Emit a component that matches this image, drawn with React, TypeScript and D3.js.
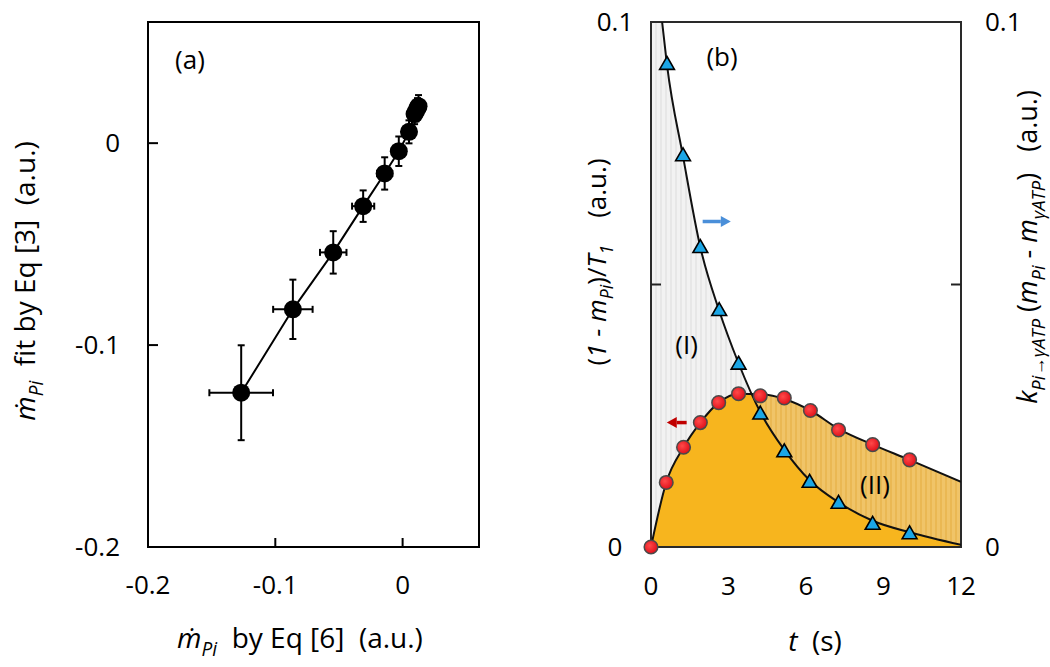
import React from 'react';
import * as d3 from 'd3';

const W = 1050;
const H = 667;
const FONT = "'Open Sans', 'Noto Sans', sans-serif";

// ---------- Panel (a) data ----------
const aTicks = [-0.2, -0.1, 0];
const aX = [-0.1268, -0.0862, -0.0545, -0.031, -0.0141, -0.003, 0.005, 0.0094, 0.0105, 0.0117, 0.0125];
const aY = [-0.1236, -0.0823, -0.0541, -0.0312, -0.015, -0.004, 0.0056, 0.0144, 0.0158, 0.0173, 0.0183];
const aXErr = [0.025, 0.0155, 0.0104, 0.0087, 0.006, 0.005, 0.004, 0.004, 0.004, 0.004, 0.004];
const aYErr = [0.0235, 0.0147, 0.0105, 0.0078, 0.008, 0.0073, 0.0057, 0.005, 0.005, 0.005, 0.0055];

// ---------- Panel (b) data ----------
const bXTicks = [0, 3, 6, 9, 12];
const bYLabels = [0, 0.1];
const bYMarks = [0.05];
// blue triangles (right axis)
const triT = [0.62, 1.24, 1.91, 2.64, 3.39, 4.23, 5.16, 6.14, 7.26, 8.58, 10.01];
const triY = [0.0918, 0.0744, 0.0569, 0.0449, 0.0347, 0.0252, 0.018, 0.0122, 0.0082, 0.0042, 0.0024];
// red circles (left axis)
const cirT = [0, 0.59, 1.26, 1.91, 2.62, 3.39, 4.23, 5.16, 6.17, 7.26, 8.58, 10.01];
const cirY = [0, 0.0123, 0.019, 0.0237, 0.0275, 0.0292, 0.0288, 0.0284, 0.026, 0.0223, 0.0195, 0.0166];
// fitted curves
const fit1T = [0.43, 0.62, 1.24, 1.91, 2.64, 3.39, 4.23, 5.16, 6.14, 7.26, 8.58, 10.01, 12];
const fit1Y = [0.1, 0.0918, 0.0744, 0.0571, 0.045, 0.035, 0.0257, 0.0185, 0.0127, 0.0085, 0.005, 0.0028, 0.0004];
const fit2T = [0, 0.59, 1.26, 1.91, 2.62, 3.39, 4.23, 5.16, 6.17, 7.26, 8.58, 10.01, 12];
const fit2Y = [0, 0.0123, 0.019, 0.0237, 0.0275, 0.0292, 0.0291, 0.0282, 0.026, 0.0225, 0.0195, 0.0166, 0.0124];
// annotations
const blueArrow = { t0: 2.0, t1: 3.09, y: 0.062 };
const redArrow = { t0: 1.38, t1: 0.61, y: 0.0237 };
const labelI = { t: 1.38, y: 0.0385 };
const labelII = { t: 8.67, y: 0.0118 };

type Seg = { t: string; i?: boolean; s?: boolean };

function Rich({ segs, size, subScale = 0.68, ...rest }: { segs: Seg[]; size: number; subScale?: number; [k: string]: any }) {
  const sub = size * subScale;
  const shift = size * 0.28;
  let prev = false;
  return (
    <text fontSize={size} fontFamily={FONT} fill="#000" style={{ whiteSpace: 'pre' }} {...rest}>
      {segs.map((g, k) => {
        let dy = 0;
        if (g.s && !prev) dy = shift;
        else if (!g.s && prev) dy = -shift;
        prev = !!g.s;
        return (
          <tspan key={k} dy={dy || undefined} fontSize={g.s ? sub : undefined} fontStyle={g.i ? 'italic' : undefined}>
            {g.t}
          </tspan>
        );
      })}
    </text>
  );
}

function Arrow({ x0, x1, y, color }: { x0: number; x1: number; y: number; color: string }) {
  const dir = Math.sign(x1 - x0);
  const hl = 10;
  const hw = 5.5;
  return (
    <g>
      <line x1={x0} x2={x1 - dir * hl} y1={y} y2={y} stroke={color} strokeWidth={3.5} />
      <polygon points={`${x1},${y} ${x1 - dir * hl},${y - hw} ${x1 - dir * hl},${y + hw}`} fill={color} />
    </g>
  );
}

export default function App() {
  // Panel a scales
  const ax = d3.scaleLinear().domain([-0.2, 0.06]).range([148, 479]);
  const ay = d3.scaleLinear().domain([-0.2, 0.06]).range([547, 22]);
  const aPts = aX.map((x, i) => ({ x, y: aY[i], ex: aXErr[i], ey: aYErr[i] }));
  const aLine = d3.line<{ x: number; y: number }>().x((d) => ax(d.x)).y((d) => ay(d.y))(aPts) || '';

  // Panel b scales
  const bx = d3.scaleLinear().domain([0, 12]).range([651, 961]);
  const by = d3.scaleLinear().domain([0, 0.1]).range([547, 22]);
  const f1 = fit1T.map((t, i) => [t, fit1Y[i]] as [number, number]);
  const f2 = fit2T.map((t, i) => [t, fit2Y[i]] as [number, number]);
  const line = d3.line<[number, number]>().x((d) => bx(d[0])).y((d) => by(d[1])).curve(d3.curveMonotoneX);
  const l1 = line(f1) || '';
  const l2 = line(f2) || '';
  const under1 = `M${bx(0)},${by(0)}L${bx(0)},${by(0.1)}L${l1.slice(1)}L${bx(12)},${by(0)}Z`;
  const under2 = (d3
    .area<[number, number]>()
    .x((d) => bx(d[0]))
    .y0(by(0))
    .y1((d) => by(d[1]))
    .curve(d3.curveMonotoneX)(f2)) || '';
  const triPath = d3.symbol().type(d3.symbolTriangle).size(95)() || '';

  const tickFS = 26;
  const titleFS = 28;

  return (
    <svg width={W} height={H} style={{ position: 'absolute', left: 0, top: 0, background: '#fff' }} fontFamily={FONT}>
      <defs>
        <pattern id="grayStripe" width="5" height="10" patternUnits="userSpaceOnUse">
          <rect width="5" height="10" fill="#f2f2f2" />
          <rect width="2" height="10" fill="#e7e7e7" />
        </pattern>
        <pattern id="orangeStripe" width="5" height="10" patternUnits="userSpaceOnUse">
          <rect width="5" height="10" fill="#f0c468" />
          <rect width="2" height="10" fill="#eab853" />
        </pattern>
        <clipPath id="plotB">
          <rect x={bx(0)} y={by(0.1)} width={bx(12) - bx(0)} height={by(0) - by(0.1)} />
        </clipPath>
        <clipPath id="under1">
          <path d={under1} />
        </clipPath>
        <radialGradient id="redBall" cx="0.4" cy="0.4" r="0.6">
          <stop offset="0" stopColor="#ff4a4a" />
          <stop offset="1" stopColor="#e0101a" />
        </radialGradient>
      </defs>

      {/* ================= Panel (a) ================= */}
      <rect x={ax(-0.2)} y={ay(0.06)} width={ax(0.06) - ax(-0.2)} height={ay(-0.2) - ay(0.06)} fill="none" stroke="#000" strokeWidth={2} />
      {aTicks.map((v) => (
        <g key={'ax' + v}>
          <line x1={ax(v)} x2={ax(v)} y1={ay(-0.2)} y2={ay(-0.2) - 9} stroke="#000" strokeWidth={2} />
          <text x={ax(v)} y={594} textAnchor="middle" fontSize={tickFS}>{v === 0 ? '0' : v.toFixed(1)}</text>
        </g>
      ))}
      {aTicks.map((v) => (
        <g key={'ay' + v}>
          <line x1={ax(-0.2)} x2={ax(-0.2) + 10} y1={ay(v)} y2={ay(v)} stroke="#000" strokeWidth={2} />
          <text x={120} y={ay(v) + 9} textAnchor="end" fontSize={tickFS}>{v === 0 ? '0' : v.toFixed(1)}</text>
        </g>
      ))}
      <path d={aLine} fill="none" stroke="#000" strokeWidth={2} />
      {aPts.map((p, i) => (
        <g key={'ap' + i} stroke="#000" strokeWidth={2}>
          <line x1={ax(p.x - p.ex)} x2={ax(p.x + p.ex)} y1={ay(p.y)} y2={ay(p.y)} />
          <line x1={ax(p.x - p.ex)} x2={ax(p.x - p.ex)} y1={ay(p.y) - 3.5} y2={ay(p.y) + 3.5} />
          <line x1={ax(p.x + p.ex)} x2={ax(p.x + p.ex)} y1={ay(p.y) - 3.5} y2={ay(p.y) + 3.5} />
          <line x1={ax(p.x)} x2={ax(p.x)} y1={ay(p.y - p.ey)} y2={ay(p.y + p.ey)} />
          <line x1={ax(p.x) - 3.5} x2={ax(p.x) + 3.5} y1={ay(p.y - p.ey)} y2={ay(p.y - p.ey)} />
          <line x1={ax(p.x) - 3.5} x2={ax(p.x) + 3.5} y1={ay(p.y + p.ey)} y2={ay(p.y + p.ey)} />
          <circle cx={ax(p.x)} cy={ay(p.y)} r={9} fill="#000" stroke="none" />
        </g>
      ))}
      <text x={190} y={69} textAnchor="middle" fontSize={tickFS}>(a)</text>
      <Rich
        size={titleFS}
        x={300}
        y={648}
        textAnchor="middle"
        segs={[{ t: 'ṁ', i: true }, { t: 'Pi', i: true, s: true }, { t: '  by Eq [6]  (a.u.)' }]}
      />
      <Rich
        size={titleFS}
        transform={`translate(35,281) rotate(-90)`}
        textAnchor="middle"
        segs={[{ t: 'ṁ', i: true }, { t: 'Pi', i: true, s: true }, { t: '  fit by Eq [3]  (a.u.)' }]}
      />

      {/* ================= Panel (b) ================= */}
      <g clipPath="url(#plotB)">
        <path d={under1} fill="url(#grayStripe)" />
        <path d={under2} fill="url(#orangeStripe)" />
        <path d={under2} fill="#f7b51e" clipPath="url(#under1)" />
      </g>
      <rect x={bx(0)} y={by(0.1)} width={bx(12) - bx(0)} height={by(0) - by(0.1)} fill="none" stroke="#2a2a2a" strokeWidth={2} />
      {bYMarks.map((v) => (
        <g key={'bym' + v}>
          <line x1={bx(0)} x2={bx(0) + 10} y1={by(v)} y2={by(v)} stroke="#222" strokeWidth={2} />
          <line x1={bx(12)} x2={bx(12) - 10} y1={by(v)} y2={by(v)} stroke="#222" strokeWidth={2} />
        </g>
      ))}
      {bYLabels.map((v) => (
        <g key={'byl' + v}>
          <text x={615} y={by(v) + 9} textAnchor="middle" fontSize={tickFS}>{v === 0 ? '0' : String(v)}</text>
          <text x={985} y={by(v) + 9} textAnchor="start" fontSize={tickFS}>{v === 0 ? '0' : String(v)}</text>
        </g>
      ))}
      {bXTicks.map((v) => (
        <text key={'bx' + v} x={bx(v)} y={595} textAnchor="middle" fontSize={tickFS}>{v}</text>
      ))}
      <g clipPath="url(#plotB)">
        <path d={l1} fill="none" stroke="#111" strokeWidth={2} />
        <path d={l2} fill="none" stroke="#111" strokeWidth={2} />
      </g>
      {triT.map((t, i) => (
        <path key={'tri' + i} d={triPath} transform={`translate(${bx(t)},${by(triY[i])})`} fill="#1ba6e6" stroke="#000" strokeWidth={1.6} />
      ))}
      {cirT.map((t, i) => (
        <circle key={'cir' + i} cx={bx(t)} cy={by(cirY[i])} r={6.8} fill="url(#redBall)" stroke="#4a4a4a" strokeWidth={1.5} />
      ))}
      <Arrow x0={bx(blueArrow.t0)} x1={bx(blueArrow.t1)} y={by(blueArrow.y)} color="#4a8fd9" />
      <Arrow x0={bx(redArrow.t0)} x1={bx(redArrow.t1)} y={by(redArrow.y)} color="#c00000" />
      <text x={bx(labelI.t)} y={by(labelI.y) + 9} textAnchor="middle" fontSize={tickFS}>(I)</text>
      <text x={bx(labelII.t)} y={by(labelII.y) + 9} textAnchor="middle" fontSize={tickFS}>(II)</text>
      <text x={722} y={66} textAnchor="middle" fontSize={tickFS}>(b)</text>
      <Rich
        size={titleFS}
        x={815}
        y={651}
        textAnchor="middle"
        segs={[{ t: 't', i: true }, { t: '  (s)' }]}
      />
      <Rich
        size={26}
        transform={`translate(606,262) rotate(-90)`}
        textAnchor="middle"
        segs={[
          { t: '(' },
          { t: '1 - m', i: true },
          { t: 'Pi', i: true, s: true },
          { t: ')/' },
          { t: 'T', i: true },
          { t: '1', i: true, s: true },
          { t: '    (a.u.)' },
        ]}
      />
      <Rich
        size={27}
        subScale={0.68}
        transform={`translate(1037,247) rotate(-90)`}
        textAnchor="middle"
        segs={[
          { t: 'k', i: true },
          { t: 'Pi→γATP', i: true, s: true },
          { t: ' (' },
          { t: 'm', i: true },
          { t: 'Pi', i: true, s: true },
          { t: ' - ' },
          { t: 'm', i: true },
          { t: 'γATP', i: true, s: true },
          { t: ')' },
          { t: '   (a.u.)' },
        ]}
      />
    </svg>
  );
}
